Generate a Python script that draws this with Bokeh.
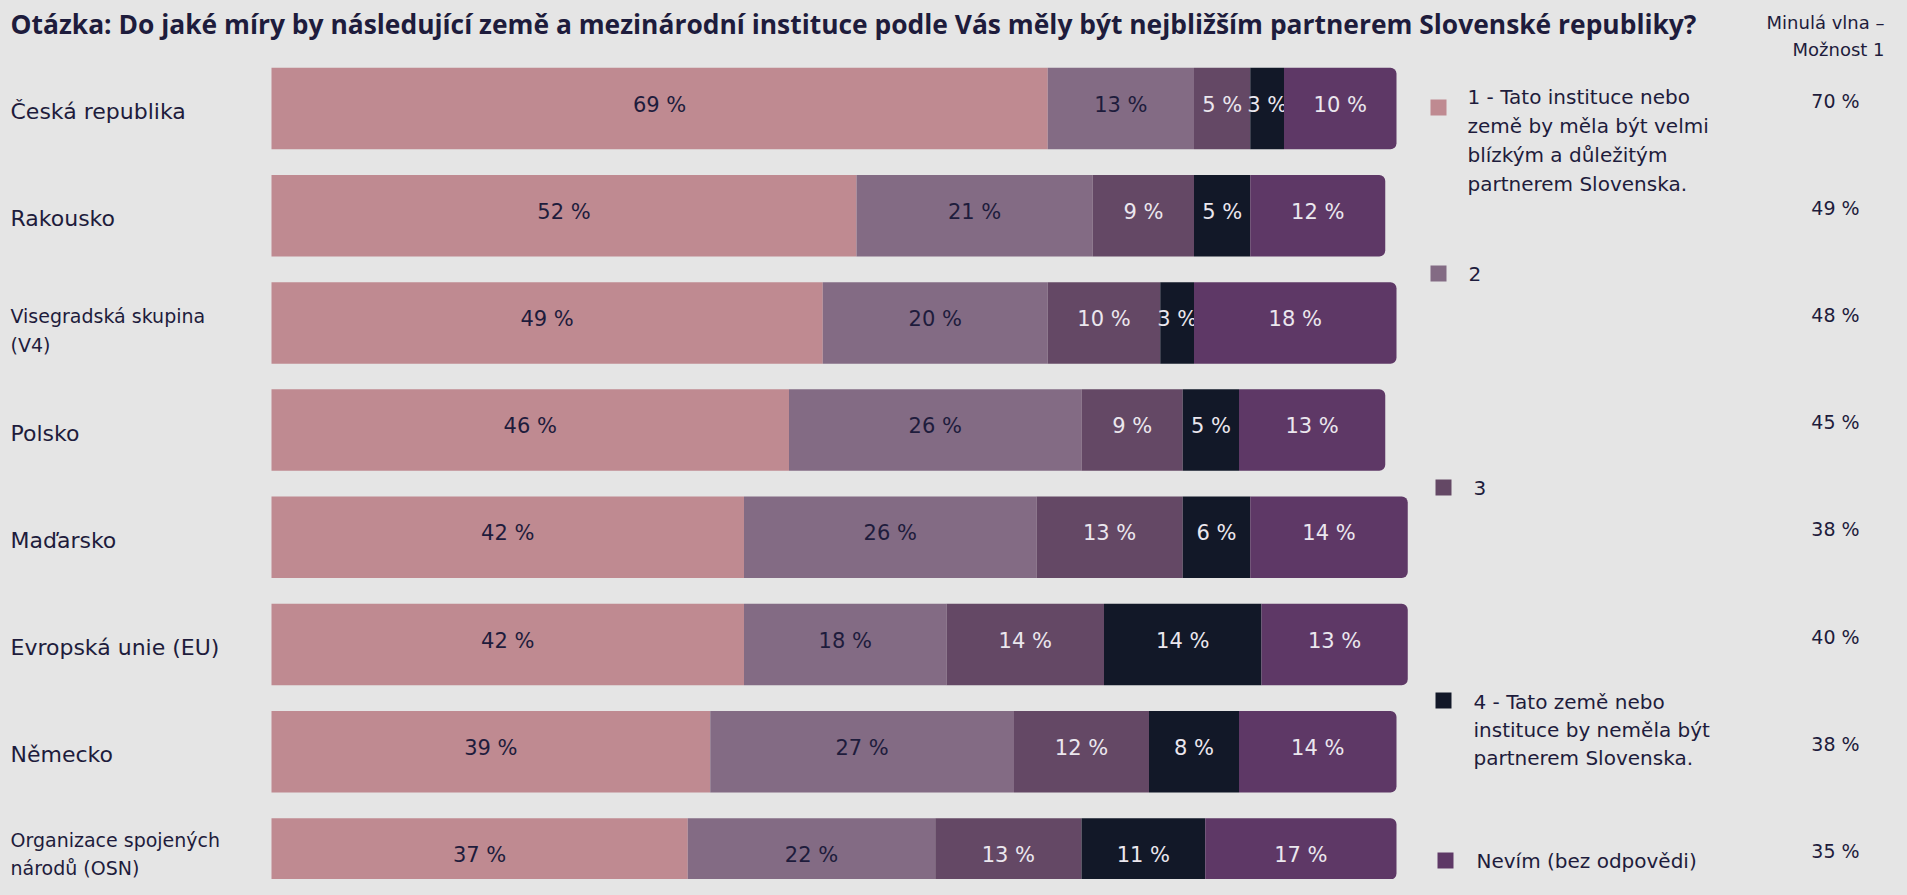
import numpy as np
from bokeh.plotting import figure
from bokeh.models import Range1d
from bokeh.core.properties import value
from bokeh.embed import file_html
from bokeh.resources import INLINE

# ---------------- data ----------------
categories = [
    "Česká republika",
    "Rakousko",
    "Visegradská skupina\n(V4)",
    "Polsko",
    "Maďarsko",
    "Evropská unie (EU)",
    "Německo",
    "Organizace spojených\nnárodů (OSN)",
]
option_1 = [69, 52, 49, 46, 42, 42, 39, 37]
option_2 = [13, 21, 20, 26, 26, 18, 27, 22]
option_3 = [5, 9, 10, 9, 13, 14, 12, 13]
option_4 = [3, 5, 3, 5, 6, 14, 8, 11]
dont_know = [10, 12, 18, 13, 14, 13, 14, 17]
previous_wave = [70, 49, 48, 45, 38, 40, 38, 35]

series_names = [
    "1 - Tato instituce nebo\nzemě by měla být velmi\nblízkým a důležitým\npartnerem Slovenska.",
    "2",
    "3",
    "4 - Tato země nebo\ninstituce by neměla být\npartnerem Slovenska.",
    "Nevím (bez odpovědi)",
]
title_text = ("Otázka: Do jaké míry by následující země a mezinárodní instituce podle Vás "
              "měly být nejbližším partnerem Slovenské republiky?")
header_lines = ["Minulá vlna –", "Možnost 1"]

# ---------------- style ----------------
BG = "#e5e5e5"
DARK = "#1e1c3c"
LIGHT = "#ebe7ee"
colors = ["#bf8a91", "#836b84", "#644865", "#121828", "#5e3866"]
label_colors = [DARK, DARK, LIGHT, LIGHT, LIGHT]
FONT = value("DejaVu Sans")
TITLE_FONT = value("Open Sans")

W, H = 1891, 879
X0, XS = 271.0, 11.25     # pixel of 0 %, pixels per %
Y0, YS = 108.0, 107.2     # pixel of first row centre, pixels per row


def dx(px):  # pixel -> data x
    return (px - X0) / XS


def dy(py):  # pixel -> data y
    return (py - Y0) / YS


p = figure(width=W, height=H, output_backend="svg", toolbar_location=None,
           x_range=Range1d(-X0 / XS, (W - X0) / XS),
           y_range=Range1d((H - Y0) / YS, -Y0 / YS),
           x_axis_location=None, y_axis_location=None,
           min_border=0, background_fill_color=BG, border_fill_color=BG,
           outline_line_color=None)
p.grid.visible = False

rows = np.arange(len(categories))
series = [option_1, option_2, option_3, option_4, dont_know]
cum = np.zeros(len(categories))
for k, vals in enumerate(series):
    vals = np.array(vals, dtype=float)
    left = cum.copy()
    right = cum + vals
    kw = {}
    if k == len(series) - 1:
        kw["border_radius"] = (0, 6, 6, 0)
    p.hbar(y=rows, left=left, right=right, height=0.76, fill_color=colors[k],
           line_color=None, **kw)
    p.text(x=(left + right) / 2, y=rows - 4 / YS, text=[f"{int(v)} %" for v in vals],
           text_align="center", text_baseline="middle", text_font=FONT,
           text_font_size="21px", text_color=label_colors[k])
    cum = right

# category labels (left aligned)
for i, cat in enumerate(categories):
    lines = cat.split("\n")
    n = len(lines)
    if n == 1:
        shift, size, spacing = 3, "22px", 0
    elif i < len(categories) - 1:
        shift, size, spacing = 8, "19px", 29
    else:
        shift, size, spacing = -5, "19px", 28   # keep last label inside the canvas
    for j, line in enumerate(lines):
        off = (j - (n - 1) / 2) * spacing
        p.text(x=[dx(10)], y=[i + (shift + off) / YS], text=[line], text_align="left",
               text_baseline="middle", text_font=FONT,
               text_font_size=size, text_color=DARK)

# title
p.text(x=[dx(10)], y=[dy(23)], text=[title_text], text_align="left",
       text_baseline="middle", text_font=TITLE_FONT, text_font_style="bold",
       text_font_size="26.4px", text_color=DARK)

# header of previous wave column
for j, line in enumerate(header_lines):
    p.text(x=[dx(1884)], y=[dy(22 + 27 * j)], text=[line], text_align="right",
           text_baseline="middle", text_font=FONT,
           text_font_size="18px", text_color=DARK)

# previous wave values
p.text(x=[dx(1835)] * len(previous_wave), y=rows - 8 / YS,
       text=[f"{v} %" for v in previous_wave], text_align="center",
       text_baseline="middle", text_font=FONT,
       text_font_size="19px", text_color=DARK)

# legend
leg_sq = [(1438, 107), (1438, 273), (1443, 487), (1443, 700), (1445, 860)]
leg_tx = [(1467, 96), (1468, 273), (1473, 487), (1473, 701), (1476, 860)]
leg_sp = [29, 28, 28, 28, 28]
for k, name in enumerate(series_names):
    sx, sy = leg_sq[k]
    p.scatter(x=[dx(sx)], y=[dy(sy)], marker="square", size=16,
              fill_color=colors[k], line_color=None)
    tx, ty = leg_tx[k]
    for j, line in enumerate(name.split("\n")):
        p.text(x=[dx(tx)], y=[dy(ty + leg_sp[k] * j)], text=[line], text_align="left",
               text_baseline="middle", text_font=FONT,
               text_font_size="20px", text_color=DARK)

html = file_html(p, INLINE)
html = html.replace("</head>", "<style>html,body{background:#e5e5e5;}</style></head>")
open("out.html", "w").write(html)
